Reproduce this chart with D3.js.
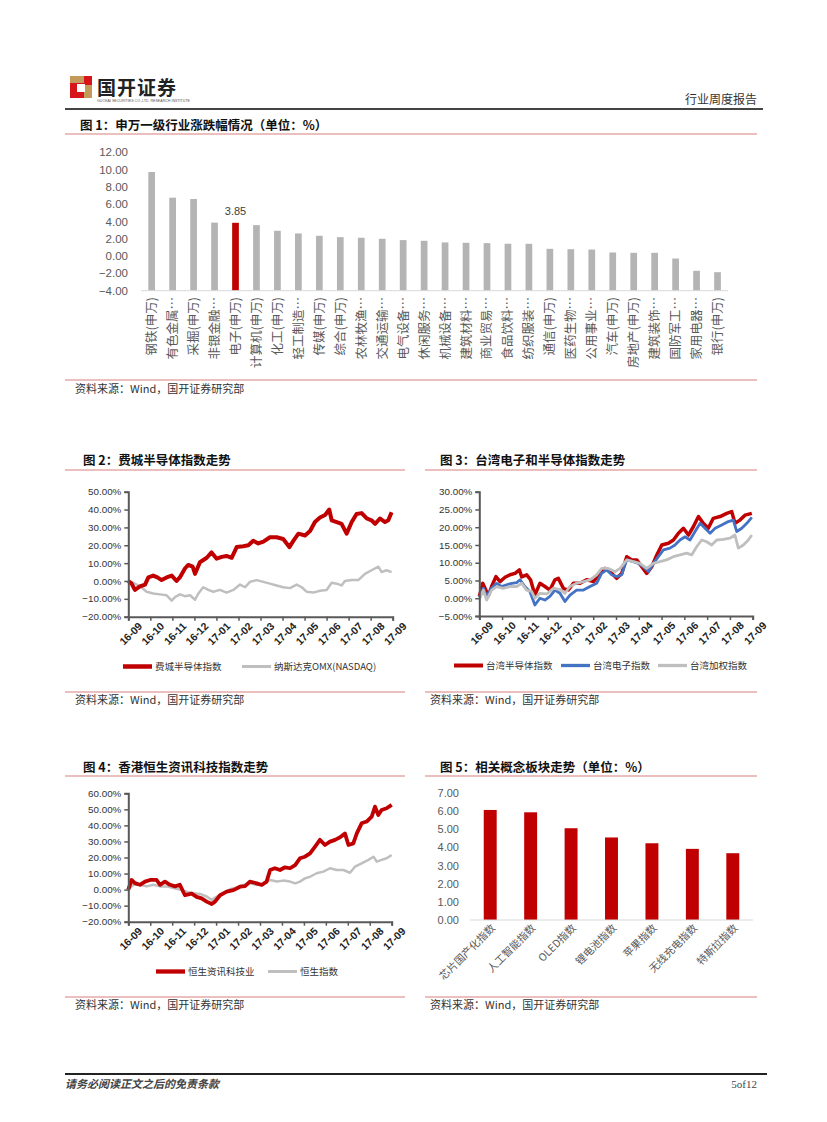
<!DOCTYPE html>
<html lang="zh">
<head>
<meta charset="UTF-8">
<title>行业周度报告</title>
<script src="https://cdnjs.cloudflare.com/ajax/libs/d3/7.8.5/d3.min.js"></script>
<style>
  body { margin: 0; background: #fff; }
  svg { display: block; font-family: "Noto Sans CJK SC", "Liberation Sans", sans-serif; }
  .num { font-family: "Liberation Sans", Arial, sans-serif; }
</style>
</head>
<body>
<svg id="page" width="827" height="1122"></svg>
<script>
// ---- data ----
const industries = ["钢铁(申万)", "有色金属…", "采掘(申万)", "非银金融…", "电子(申万)", "计算机(申万)", "化工(申万)",
  "轻工制造…", "传媒(申万)", "综合(申万)", "农林牧渔…", "交通运输…", "电气设备…", "休闲服务…",
  "机械设备…", "建筑材料…", "商业贸易…", "食品饮料…", "纺织服装…", "通信(申万)", "医药生物…",
  "公用事业…", "汽车(申万)", "房地产(申万)", "建筑装饰…", "国防军工…", "家用电器…", "银行(申万)"];
const industryChange = [9.72, 6.75, 6.6, 3.87, 3.85, 3.58, 2.93, 2.62, 2.35, 2.19, 2.12, 2.0, 1.85, 1.77,
  1.58, 1.54, 1.5, 1.43, 1.42, 0.84, 0.8, 0.76, 0.42, 0.38, 0.38, -0.28, -1.7, -1.86];
const highlightIndustry = "电子(申万)";
const industryTicks = [-4, -2, 0, 2, 4, 6, 8, 10, 12];

const monthLabels = ["16-09", "16-10", "16-11", "16-12", "17-01", "17-02", "17-03",
  "17-04", "17-05", "17-06", "17-07", "17-08", "17-09"];

// [months since 16-09, % change]
const soxIndex = [[0,0],[0.15,-1.5],[0.3,-5],[0.53,-3],[0.76,-2],[0.91,2],[1.13,3],[1.32,2],[1.51,0.5],[1.74,2],
  [1.97,3],[2.19,0],[2.34,2],[2.57,7],[2.72,9],[2.92,8],[3.03,4],[3.25,10.5],[3.56,13],[3.78,16],[4.01,12.5],
  [4.24,13.5],[4.46,14],[4.69,13],[4.92,19],[5.22,19.5],[5.45,20],[5.67,22.5],[5.9,21],[6.13,22],[6.43,24.5],
  [6.73,24.5],[7.03,23.5],[7.31,19],[7.49,22.5],[7.72,26.5],[8.02,25.5],[8.25,28],[8.47,33],[8.7,35.5],
  [8.93,37],[9.12,40],[9.23,34],[9.46,33],[9.68,32],[9.91,26.5],[10.14,33],[10.36,37.5],[10.59,38],
  [10.82,35],[11.04,34],[11.2,32],[11.42,35],[11.65,33],[11.8,34],[11.95,38.5]];
const nasdaqIndex = [[0,0],[0.23,-1],[0.53,-3],[0.83,-6],[1.13,-7],[1.44,-7.5],[1.74,-8],[1.97,-11],[2.12,-9],
  [2.34,-7.5],[2.57,-8.5],[2.8,-8],[3.03,-10.5],[3.18,-7],[3.4,-3.5],[3.63,-5],[3.86,-6],[4.16,-5],[4.46,-6.5],
  [4.77,-5],[5.07,-2],[5.3,-3.5],[5.52,-0.5],[5.82,0.5],[6.13,-0.5],[6.43,-1.5],[6.73,-2.5],[7.03,-3.5],
  [7.34,-4],[7.64,-2],[7.87,-3.5],[8.09,-6],[8.4,-6.5],[8.7,-5.5],[9.0,-5],[9.23,-1],[9.46,-1.5],[9.68,-2.5],
  [9.83,0],[10.14,0.5],[10.44,0.5],[10.74,4],[11.04,6],[11.35,8],[11.5,5],[11.72,6],[11.95,5]];

const twSemi = [[0,0.5],[0.15,4.2],[0.25,2.8],[0.4,0.7],[0.54,3.3],[0.73,6.1],[0.91,4.7],[1.13,5.9],[1.35,6.6],
  [1.57,7],[1.76,8],[1.86,6],[2.08,6.6],[2.25,5.2],[2.44,0.9],[2.66,4.2],[2.88,3.3],[3.1,2.3],[3.32,5.2],
  [3.47,5.6],[3.69,2.8],[3.91,2.3],[4.13,4.2],[4.42,4.2],[4.71,5.2],[5.01,4.7],[5.3,7],[5.52,8.4],[5.74,7.5],
  [6.03,5.6],[6.25,7],[6.47,11.7],[6.69,10.8],[6.91,10.8],[7.13,8.9],[7.35,7],[7.57,8.9],[7.79,12.2],[8.01,15],
  [8.3,15.5],[8.52,16.4],[8.74,18.3],[8.96,19.7],[9.18,17.8],[9.4,20.2],[9.62,23],[9.83,21.1],[10.05,19.7],
  [10.27,22.5],[10.57,23],[10.86,23.9],[11.08,24.4],[11.22,21.1],[11.44,22],[11.66,23.4],[11.96,23.9]];
const twElec = [[0,0.3],[0.18,2.8],[0.32,0.5],[0.54,2.8],[0.76,4.2],[0.98,3.3],[1.2,3.8],[1.42,4.2],[1.64,4.4],
  [1.79,5.2],[2.0,3.3],[2.22,1.9],[2.44,-1.9],[2.66,0],[2.88,-0.5],[3.1,0.5],[3.32,2.3],[3.54,1.4],[3.76,-0.9],
  [3.98,0.9],[4.27,2.3],[4.57,2.3],[4.86,3.3],[5.15,4.2],[5.37,7],[5.59,8],[5.81,6.6],[6.03,6.1],[6.25,6.6],
  [6.47,10.8],[6.76,10.3],[6.98,9.8],[7.2,8.9],[7.42,7.5],[7.64,9.8],[7.86,11.7],[8.08,13.6],[8.37,14.1],
  [8.59,15],[8.81,16.4],[9.03,17.3],[9.25,16.4],[9.47,18.8],[9.69,21.1],[9.91,19.7],[10.13,18.3],[10.35,19.7],
  [10.64,20.6],[10.93,21.6],[11.15,22],[11.3,18.8],[11.52,19.7],[11.74,21.1],[11.96,22.8]];
const twWeighted = [[0,-0.3],[0.18,2.3],[0.32,-0.5],[0.54,2.3],[0.76,3.3],[1.05,2.8],[1.35,3.3],[1.64,3.3],
  [1.86,4.2],[2.08,2.3],[2.3,1.9],[2.44,0],[2.66,1.4],[2.96,1.2],[3.25,2.8],[3.54,2.5],[3.76,1.4],[3.98,3.3],
  [4.27,4.2],[4.57,4.7],[4.86,5.2],[5.15,6.6],[5.37,8.4],[5.66,8.4],[5.96,7.5],[6.18,8.4],[6.47,10.8],
  [6.76,10.3],[7.05,9.8],[7.35,8.4],[7.64,9.8],[7.93,10.3],[8.22,10.8],[8.52,11.7],[8.81,12.2],[9.1,12.7],
  [9.32,12.2],[9.54,14.5],[9.76,16.4],[9.98,15.9],[10.2,15],[10.42,16.4],[10.71,16.6],[11.0,16.9],[11.22,17.8],
  [11.37,14.1],[11.59,15],[11.81,16.4],[11.96,17.8]];

const hsIT = [[0,0],[0.15,6],[0.3,4],[0.53,3],[0.76,5],[0.99,6],[1.29,6],[1.44,3],[1.67,5],[1.9,3],[2.13,2],
  [2.35,3],[2.58,-3.5],[2.89,-2.5],[3.11,-4.5],[3.34,-5.5],[3.57,-7.5],[3.8,-9],[3.95,-7.5],[4.18,-3.5],
  [4.48,-1.3],[4.79,-0.3],[5.09,1.8],[5.32,2.2],[5.54,5],[5.85,3.9],[6.08,2.9],[6.3,5],[6.46,12.2],[6.68,13.3],
  [6.91,12.2],[7.14,13.9],[7.37,13.3],[7.6,15.3],[7.82,19.5],[8.05,20.5],[8.28,22.6],[8.51,26.8],[8.73,31],
  [8.96,27.8],[9.19,29.9],[9.42,31],[9.65,32.6],[9.87,35],[10.03,27.8],[10.25,28.8],[10.41,35],[10.63,41.3],
  [10.86,42.4],[11.09,45.5],[11.24,51.7],[11.39,46.5],[11.54,49.6],[11.77,50.7],[12.0,52.8]];
const hsIndex = [[0,0],[0.23,3],[0.53,3],[0.84,2],[1.14,3],[1.44,2],[1.75,2],[2.05,1],[2.35,0],[2.66,-1.3],
  [2.96,-2.3],[3.27,-2.7],[3.57,-4.3],[3.8,-6.4],[4.03,-4.3],[4.33,-2.3],[4.63,0.2],[4.94,1.4],[5.24,2.9],
  [5.54,3.9],[5.85,2.9],[6.15,3.9],[6.46,6],[6.76,5],[7.06,5.6],[7.37,5],[7.6,3.9],[7.82,5],[8.05,7],[8.28,8],
  [8.58,10.2],[8.89,11.2],[9.19,13.3],[9.49,12.2],[9.8,12.2],[10.1,10.5],[10.33,14.3],[10.63,16.4],
  [10.94,18.5],[11.17,20.5],[11.32,17.4],[11.54,18.5],[11.77,19.5],[12.0,21.6]];

const concepts = ["芯片国产化指数", "人工智能指数", "OLED指数", "锂电池指数", "苹果指数", "无线充电指数", "特斯拉指数"];
const conceptChange = [6.08, 5.95, 5.07, 4.56, 4.24, 3.93, 3.69];
const conceptTicks = [0, 1, 2, 3, 4, 5, 6, 7];

const RED = "#c00000", GRAY = "#bfbfbf", BLUE = "#4472c4", RULE = "#d98080", TXT = "#333";
const svg = d3.select("#page");
const source = "资料来源：Wind，国开证券研究部";

// ---- header ----
svg.append("rect").attr("x", 70).attr("y", 76).attr("width", 22).attr("height", 22).attr("fill", "#c49a5b");
svg.append("rect").attr("x", 70).attr("y", 83).attr("width", 14).attr("height", 15).attr("fill", "#d7141a");
svg.append("rect").attr("x", 84).attr("y", 76).attr("width", 8).attr("height", 9).attr("fill", "#d7141a");
svg.append("rect").attr("x", 77).attr("y", 84).attr("width", 8).attr("height", 8).attr("fill", "#fff");
svg.append("text").attr("x", 97).attr("y", 95).attr("font-size", 19).attr("font-weight", "bold")
  .attr("fill", "#222").attr("letter-spacing", 1).text("国开证券");
svg.append("text").attr("class", "num").attr("x", 97).attr("y", 102).attr("font-size", 3.6)
  .attr("fill", "#555").text("GUOKAI SECURITIES CO.,LTD. RESEARCH INSTITUTE");
svg.append("text").attr("x", 757).attr("y", 104).attr("font-size", 12).attr("fill", TXT)
  .attr("text-anchor", "end").text("行业周度报告");
svg.append("line").attr("x1", 65).attr("x2", 763).attr("y1", 109).attr("y2", 109)
  .attr("stroke", "#444").attr("stroke-width", 2);

function rule(x1, x2, y) {
  svg.append("line").attr("x1", x1).attr("x2", x2).attr("y1", y).attr("y2", y)
    .attr("stroke", RULE).attr("stroke-width", 1.2);
}
function title(x, y, t) {
  svg.append("text").attr("x", x).attr("y", y).attr("font-size", 12.5).attr("font-weight", "bold")
    .attr("fill", "#111").text(t);
}
function src(x, y) {
  svg.append("text").attr("x", x).attr("y", y).attr("font-size", 11).attr("fill", TXT).text(source);
}

// ---- figure 1 ----
title(80, 130, "图 1：申万一级行业涨跌幅情况（单位：%）");
rule(65, 757, 134);
{
  const y = d3.scaleLinear().domain([-4, 12]).range([290.7, 152.3]);
  const x = d3.scaleBand().domain(industries).range([141.2, 728]).paddingInner(0.68).paddingOuter(0.34);
  const g = svg.append("g");
  g.selectAll("text.yt").data(industryTicks).join("text").attr("class", "num")
    .attr("x", 128).attr("y", d => y(d)).attr("dy", "0.35em").attr("text-anchor", "end")
    .attr("font-size", 11.5).attr("fill", "#595959").text(d3.format(".2f"));
  g.selectAll("rect").data(industries).join("rect")
    .attr("x", d => x(d)).attr("width", x.bandwidth())
    .attr("y", (d, i) => y(industryChange[i])).attr("height", (d, i) => y(-4) - y(industryChange[i]))
    .attr("fill", d => d === highlightIndustry ? RED : "#b4b4b4");
  g.append("line").attr("x1", 141).attr("x2", 728).attr("y1", y(-4)).attr("y2", y(-4))
    .attr("stroke", "#d9d9d9").attr("stroke-width", 1);
  const hi = industries.indexOf(highlightIndustry);
  g.append("text").attr("class", "num").attr("x", x(highlightIndustry) + x.bandwidth() / 2)
    .attr("y", y(industryChange[hi]) - 8).attr("text-anchor", "middle").attr("font-size", 11)
    .attr("fill", "#404040").text(industryChange[hi].toFixed(2));
  g.selectAll("text.xl").data(industries).join("text").attr("class", "xl")
    .attr("transform", d => `translate(${x(d) + x.bandwidth() / 2},297) rotate(-90)`)
    .attr("dy", "0.36em").attr("text-anchor", "end").attr("font-size", 12.5)
    .attr("fill", "#595959").text(d => d);
}
rule(65, 757, 380);
src(75, 393);

// ---- line chart helper ----
function lineChart(o) {
  const x = d3.scaleLinear().domain([0, 12]).range([o.x0, o.x1]);
  const y = d3.scaleLinear().domain(o.yDomain).range([o.y0, o.y1]);
  const g = svg.append("g");
  const line = d3.line().x(d => x(d[0])).y(d => y(d[1])).curve(d3.curveLinear);
  o.series.forEach(s => {
    g.append("path").datum(s.data).attr("d", line).attr("fill", "none")
      .attr("stroke", s.color).attr("stroke-width", s.width).attr("stroke-linejoin", "round");
  });
  const yAxis = d3.axisLeft(y).tickValues(o.yTicks).tickSize(4).tickPadding(3)
    .tickFormat(d => d3.format(".2f")(d) + "%");
  const ya = g.append("g").attr("transform", `translate(${o.x0},0)`).call(yAxis);
  const xAxis = d3.axisBottom(x).tickValues(d3.range(13)).tickSize(4).tickFormat(i => monthLabels[i]);
  const xa = g.append("g").attr("transform", `translate(0,${o.y0})`).call(xAxis);
  [ya, xa].forEach(a => {
    a.select(".domain").attr("stroke", "#595959").attr("stroke-width", 2);
    a.selectAll(".tick line").attr("stroke", "#595959").attr("stroke-width", 1.5);
    a.selectAll("text").attr("font-family", "Liberation Sans, Arial, sans-serif")
      .attr("font-size", 9.8).attr("fill", TXT);
  });
  xa.selectAll("text").attr("text-anchor", "end").attr("dy", "0.3em").attr("font-size", 10.5)
    .attr("transform", "translate(7,3) rotate(-45)").attr("font-weight", "bold").attr("fill", "#222");
  o.legend.forEach((l, i) => {
    const s = o.series[i];
    g.append("line").attr("x1", l.x).attr("x2", l.x + 29).attr("y1", o.legendY).attr("y2", o.legendY)
      .attr("stroke", s.color).attr("stroke-width", s.width + 0.5);
    g.append("text").attr("x", l.x + 32).attr("y", o.legendY).attr("dy", "0.35em")
      .attr("font-size", 9.5).attr("fill", TXT).text(s.name);
  });
}

// ---- figure 2 ----
title(83, 465, "图 2：费城半导体指数走势");
rule(65, 405, 470);
lineChart({
  x0: 128.3, x1: 392.7, y0: 616.7, y1: 491.7, yDomain: [-20, 50],
  yTicks: [-20, -10, 0, 10, 20, 30, 40, 50],
  series: [
    { name: "纳斯达克OMX(NASDAQ)", data: nasdaqIndex, color: GRAY, width: 2.5 },
    { name: "费城半导体指数", data: soxIndex, color: RED, width: 4 }
  ],
  legend: [{ x: 242 }, { x: 123 }], legendY: 666.5
});

// ---- figure 3 ----
title(440, 465, "图 3：台湾电子和半导体指数走势");
rule(425, 757, 470);
lineChart({
  x0: 479.3, x1: 752.7, y0: 616, y1: 491.7, yDomain: [-5, 30],
  yTicks: [-5, 0, 5, 10, 15, 20, 25, 30],
  series: [
    { name: "台湾半导体指数", data: twSemi, color: RED, width: 3.5 },
    { name: "台湾电子指数", data: twElec, color: BLUE, width: 2.8 },
    { name: "台湾加权指数", data: twWeighted, color: GRAY, width: 2.8 }
  ],
  legend: [{ x: 454 }, { x: 561 }, { x: 658 }], legendY: 665.5
});
rule(65, 405, 692);
rule(425, 757, 692);
src(75, 704);
src(430, 704);

// ---- figure 4 ----
title(83, 772, "图 4：香港恒生资讯科技指数走势");
rule(65, 405, 776);
lineChart({
  x0: 128.3, x1: 391.7, y0: 921.7, y1: 793.3, yDomain: [-20, 60],
  yTicks: [-20, -10, 0, 10, 20, 30, 40, 50, 60],
  series: [
    { name: "恒生指数", data: hsIndex, color: GRAY, width: 2.5 },
    { name: "恒生资讯科技业", data: hsIT, color: RED, width: 3.8 }
  ],
  legend: [{ x: 268 }, { x: 156 }], legendY: 971.5
});

// ---- figure 5 ----
title(440, 772, "图 5：相关概念板块走势（单位：%）");
rule(425, 757, 776);
{
  const y = d3.scaleLinear().domain([0, 7]).range([920, 793.3]);
  const x = d3.scaleBand().domain(concepts).range([470, 753]).paddingInner(0.68).paddingOuter(0.34);
  const g = svg.append("g");
  g.selectAll("text.yt").data(conceptTicks).join("text").attr("class", "num")
    .attr("x", 459).attr("y", d => y(d)).attr("dy", "0.35em").attr("text-anchor", "end")
    .attr("font-size", 11).attr("fill", "#595959").text(d3.format(".2f"));
  g.selectAll("rect").data(concepts).join("rect")
    .attr("x", d => x(d)).attr("width", x.bandwidth())
    .attr("y", (d, i) => y(conceptChange[i])).attr("height", (d, i) => y(0) - y(conceptChange[i]))
    .attr("fill", RED);
  g.append("line").attr("x1", 470).attr("x2", 753).attr("y1", y(0)).attr("y2", y(0))
    .attr("stroke", "#d9d9d9");
  g.selectAll("text.xl").data(concepts).join("text")
    .attr("transform", d => `translate(${x(d) + x.bandwidth() / 2 + 3},926) rotate(-45)`)
    .attr("dy", "0.35em").attr("text-anchor", "end").attr("font-size", 10.5)
    .attr("fill", "#595959").text(d => d);
}
rule(65, 405, 997);
rule(425, 757, 997);
src(75, 1009);
src(430, 1009);

// ---- footer ----
svg.append("line").attr("x1", 65).attr("x2", 767).attr("y1", 1074).attr("y2", 1074)
  .attr("stroke", "#222").attr("stroke-width", 2);
svg.append("text").attr("x", 65).attr("y", 1088).attr("font-size", 11).attr("font-weight", "bold")
  .attr("font-style", "italic").attr("fill", "#444").text("请务必阅读正文之后的免责条款");
svg.append("text").attr("x", 757).attr("y", 1088).attr("font-size", 11).attr("text-anchor", "end")
  .attr("font-family", "Liberation Serif, serif").attr("fill", "#444").text("5of12");
</script>
</body>
</html>
